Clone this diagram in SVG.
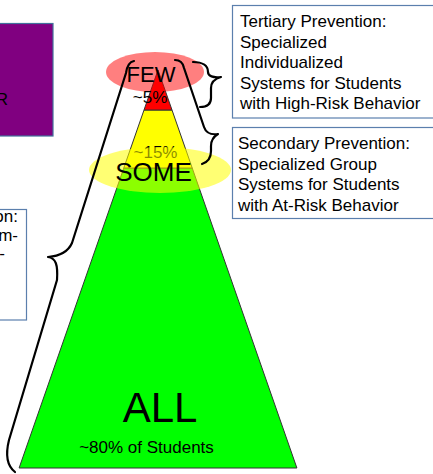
<svg xmlns="http://www.w3.org/2000/svg" width="433" height="474" viewBox="0 0 433 474">
<style>
text{font-family:"Liberation Sans",Arial,sans-serif;fill:#000}
.box{fill:#fff;stroke:#5b7fad;stroke-width:1.2}
.tier{stroke:#333;stroke-width:1}
.brace{fill:none;stroke:#000;stroke-width:2.2;stroke-linecap:round;stroke-linejoin:round}
.lbl{font-size:17px}
</style>
<rect width="433" height="474" fill="#fff"/>
<g id="purple-box">
<rect x="-10" y="23.5" width="63" height="112.5" fill="#800080" stroke="#41719c" stroke-width="1.2"/>
<text class="lbl" x="8" y="105" text-anchor="end">R</text>
</g>
<g id="primary-box">
<rect class="box" x="-10" y="209.5" width="36.5" height="110.5"/>
<text class="lbl" x="18" y="222" text-anchor="end">on:</text>
<text class="lbl" x="18" y="240.5" text-anchor="end">m-</text>
<text class="lbl" x="5" y="259" text-anchor="end">-</text>
</g>
<g id="pyramid">
<polygon id="tier-all" class="tier" points="123.8,168 192.2,168 296.9,468 19.1,468" fill="#00ff00"/>
<polygon id="tier-some" class="tier" points="144,110 172,110 192.2,168 123.8,168" fill="#ffff00"/>
<polygon id="tier-few" class="tier" points="158,70 172,110 144,110" fill="#ff0000"/>
</g>
<g id="few-node">
<ellipse cx="155" cy="72" rx="49" ry="20" fill="#ff0000" fill-opacity="0.5"/>
<text x="151" y="82" font-size="22" text-anchor="middle">FEW</text>
<text x="150" y="103" font-size="17" text-anchor="middle">~5%</text>
</g>
<g id="some-node">
<text x="155.5" y="158" font-size="17" text-anchor="middle">~15%</text>
<ellipse cx="160" cy="170" rx="71" ry="23" fill="#ffff00" fill-opacity="0.55"/>
<text x="153.5" y="181" font-size="26" text-anchor="middle">SOME</text>
</g>
<g id="all-node">
<text x="160" y="422" font-size="42" text-anchor="middle">ALL</text>
<text x="146.5" y="453" font-size="17" text-anchor="middle">~80% of Students</text>
</g>
<g id="tertiary-box">
<rect class="box" x="232.5" y="5.5" width="230" height="112.5"/>
<text class="lbl" x="240" y="27">Tertiary Prevention:</text>
<text class="lbl" x="240" y="47.5">Specialized</text>
<text class="lbl" x="240" y="68">Individualized</text>
<text class="lbl" x="240" y="88.5">Systems for Students</text>
<text class="lbl" x="240" y="109">with High-Risk Behavior</text>
</g>
<g id="secondary-box">
<rect class="box" x="232.5" y="127.5" width="230" height="91"/>
<text class="lbl" x="238" y="149">Secondary Prevention:</text>
<text class="lbl" x="238" y="169.5">Specialized Group</text>
<text class="lbl" x="238" y="190">Systems for Students</text>
<text class="lbl" x="238" y="210.5">with At-Risk Behavior</text>
</g>
<g id="connectors">
<path class="brace" d="M193 62 C203 62 208 66 208 72 C208 76 213 78 221 77 C214 79 211 82 211 88 L211 98 C211 104 207 107 200 107"/>
<path class="brace" d="M175 60 C180 60 183 63 184 68 L204 127 C206 133 210 135 218 134 C213 137 211 140 211 146 L211 151 C211 158 208 162 202 164"/>
<path class="brace" d="M134 61 C129 62 127 66 126 73 L72 243 C68 252 60 256 48 257 C56 258 58 265 57 280 L9 440 C6 452 6 465 15 472"/>
</g>
</svg>
